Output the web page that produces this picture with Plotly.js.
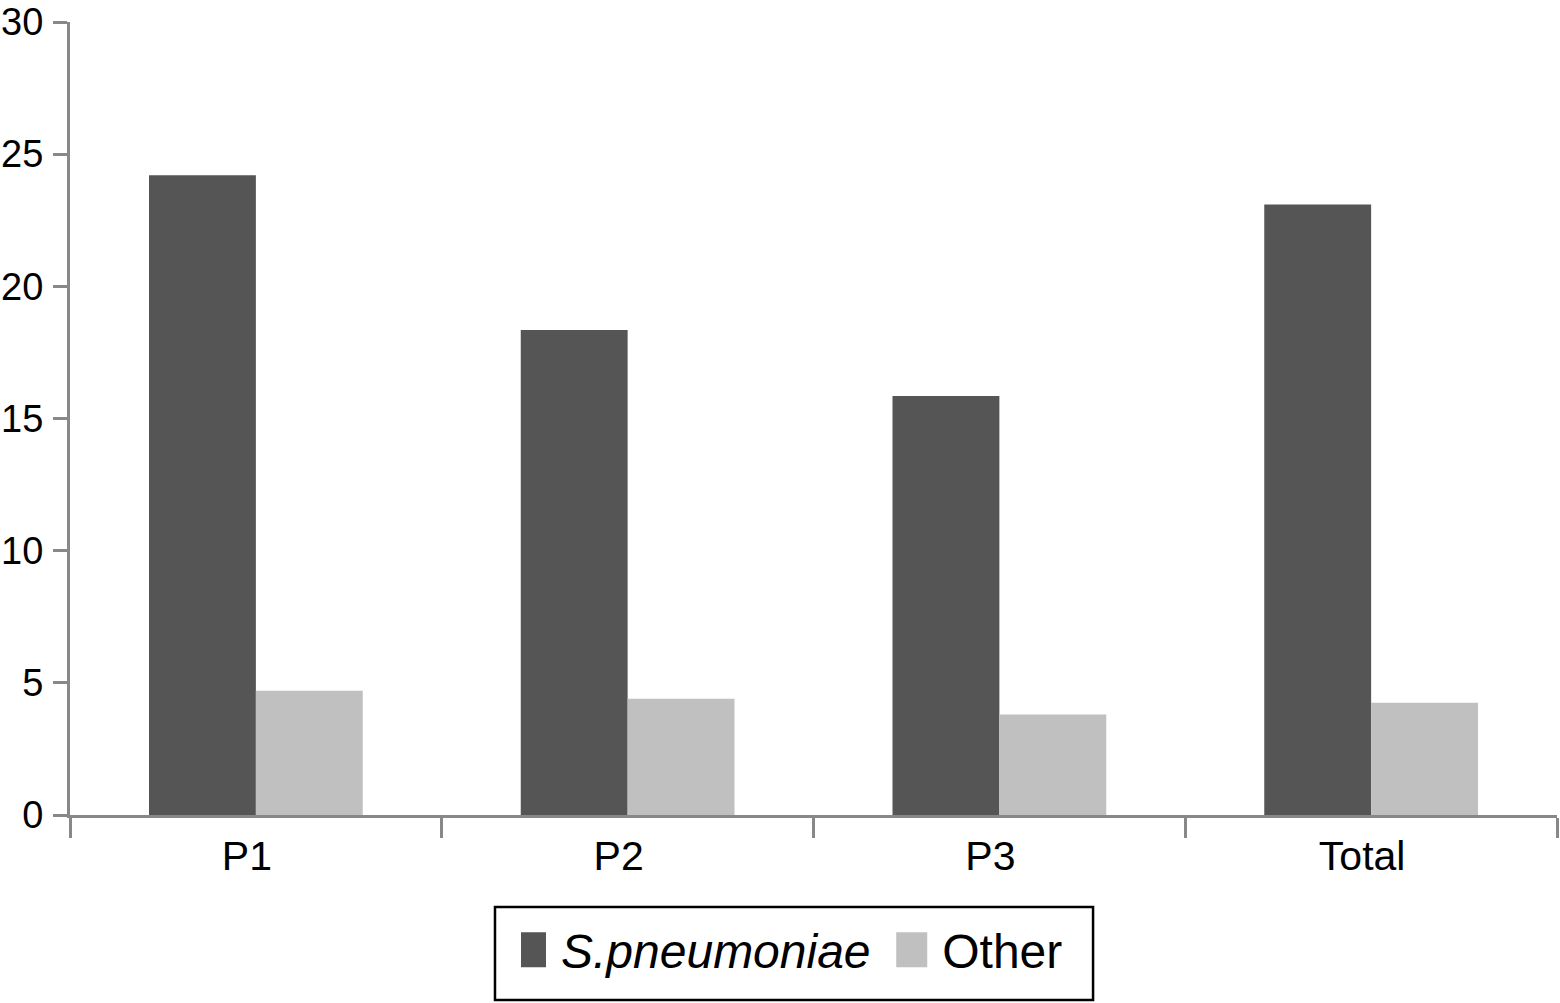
<!DOCTYPE html>
<html>
<head>
<meta charset="utf-8">
<script src="https://cdn.plot.ly/plotly-3.0.1.min.js"></script>
<style>
html,body{margin:0;padding:0;background:#fff;}
#chart{width:1560px;height:1003px;}
</style>
</head>
<body>
<div id="chart"></div>
<script>
const categories = ["P1", "P2", "P3", "Total"];
const pneumoniaeValues = [24.2, 18.35, 15.85, 23.1];
const otherValues = [4.7, 4.4, 3.8, 4.25];
const yTickValues = [0, 5, 10, 15, 20, 25, 30];
const seriesNames = ["<i>S.pneumoniae</i>\u00a0\u00a0", "Other"];

const traces = [
  {
    type: "bar",
    name: seriesNames[0],
    x: categories,
    y: pneumoniaeValues,
    marker: {color: "#555555"}
  },
  {
    type: "bar",
    name: seriesNames[1],
    x: categories,
    y: otherValues,
    marker: {color: "#c0c0c0"}
  }
];

const layout = {
  width: 1560,
  height: 1003,
  margin: {l: 70, r: 3, t: 22, b: 188},
  paper_bgcolor: "#ffffff",
  plot_bgcolor: "#ffffff",
  font: {family: "Liberation Sans, Arial, sans-serif", size: 41, color: "#000000"},
  barmode: "group",
  bargap: 0.425,
  bargroupgap: 0,
  showlegend: true,
  legend: {
    orientation: "h",
    x: 0.3033,
    xanchor: "left",
    y: -0.1223,
    yanchor: "top",
    bgcolor: "rgba(0,0,0,0)",
    borderwidth: 0,
    font: {size: 48},
    itemwidth: 30
  },
  shapes: [
    {
      type: "rect",
      xref: "paper", yref: "paper",
      x0: 0.2858, x1: 0.688,
      y0: -0.116, y1: -0.2333,
      line: {color: "#000000", width: 2.5},
      fillcolor: "rgba(0,0,0,0)"
    }
  ],
  xaxis: {
    type: "category",
    range: [-0.5, 3.5],
    showline: true,
    linecolor: "#888888",
    linewidth: 3,
    ticks: "outside",
    tickson: "boundaries",
    ticklen: 20,
    tickwidth: 3,
    tickcolor: "#888888",
    ticklabelstandoff: 3,
    ticklabelshift: -9,
    showgrid: false,
    zeroline: false,
    fixedrange: true
  },
  yaxis: {
    range: [0, 30],
    tickvals: yTickValues,
    tickfont: {size: 38},
    showline: true,
    linecolor: "#888888",
    linewidth: 3,
    ticks: "outside",
    ticklen: 14,
    tickwidth: 3,
    tickcolor: "#888888",
    ticklabeloverflow: "allow",
    ticklabelstandoff: 2,
    showgrid: false,
    zeroline: false,
    fixedrange: true
  }
};

Plotly.newPlot("chart", traces, layout, {displayModeBar: false, staticPlot: true}).then(function (gd) {
  // enlarge the legend swatches to the reference's tall rectangles
  gd.querySelectorAll(".legend .legendpoints path").forEach(function (p) {
    p.setAttribute("d", "M5,17.5H-26V-17.5H5Z");
  });
});
</script>
</body>
</html>
